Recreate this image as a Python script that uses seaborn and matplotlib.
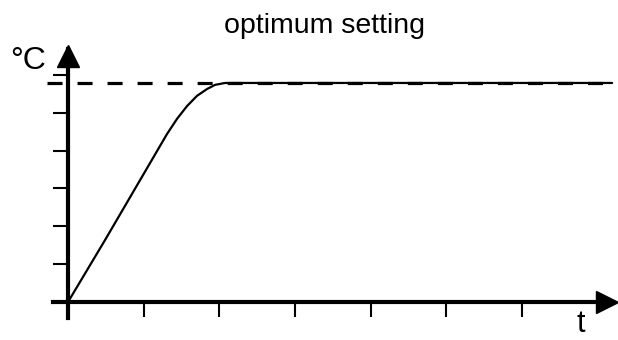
import matplotlib
matplotlib.use("Agg")
import matplotlib.pyplot as plt
import seaborn as sns
import pandas as pd

# data (in tick units)
time = [0.0, 0.49, 1.308, 1.44, 1.573, 1.705, 1.837, 1.943, 2.075, 7.19]
temp = [0.0, 1.64, 4.44, 4.84, 5.18, 5.45, 5.63, 5.74, 5.79, 5.79]
setpoint = 5.79
setpoint_span = [-0.28, 7.19]
x_ticks = [0, 1, 2, 3, 4, 5, 6]
y_ticks = [0, 1, 2, 3, 4, 5, 6]
title = "optimum setting"
x_label = "t"
y_label = "°C"

sns.set_theme(style="white")
plt.rcParams["font.family"] = ["Liberation Sans", "DejaVu Sans"]
plt.rcParams["text.color"] = "black"

fig = plt.figure(figsize=(6.18, 3.40), dpi=100)
ax = fig.add_axes([0, 0, 1, 1])
ax.set_xlim(-0.899, 7.268)
ax.set_ylim(-1.005, 7.983)

df = pd.DataFrame({"time": time, "temp": temp})
sns.lineplot(data=df, x="time", y="temp", sort=False, estimator=None,
             color="black", lw=1.6, ax=ax)
ax.plot(setpoint_span, [setpoint, setpoint], color="black", lw=2.3,
        dashes=(4.7, 4.7))

# axes as crossing spines
for s in ["top", "right"]:
    ax.spines[s].set_visible(False)
ax.spines["left"].set_position(("data", 0))
ax.spines["bottom"].set_position(("data", 0))
ax.spines["left"].set_bounds(-0.42, 6.7)
ax.spines["bottom"].set_bounds(-0.2, 7.05)
for s in ["left", "bottom"]:
    ax.spines[s].set_linewidth(3)
    ax.spines[s].set_color("black")
ax.set_xticks(x_ticks)
ax.set_yticks(y_ticks)
ax.set_xticklabels([])
ax.set_yticklabels([])
ax.tick_params(axis="both", direction="out", length=11, width=1.5,
               color="black", bottom=True, left=True)
ax.set_xlabel("")
ax.set_ylabel("")

# arrowheads
ax.plot(7.12, 0, ">", color="black", ms=15.5, clip_on=False)
ax.plot(0, 6.49, "^", color="black", ms=16.5, clip_on=False)

ax.text(-0.53, 6.17, y_label, fontsize=23, ha="center", va="baseline",
        color="black")
ax.text(6.78, -0.975, x_label, fontsize=22, ha="center", va="bottom",
        color="black")
fig.text(324 / 618, 1 - 33 / 340, title, fontsize=20.5, ha="center",
         va="baseline", color="black")

fig.savefig("out.png", dpi=100)
